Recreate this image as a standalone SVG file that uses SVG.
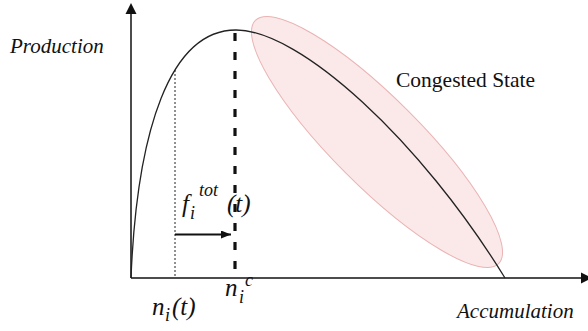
<svg xmlns="http://www.w3.org/2000/svg" width="588" height="331" viewBox="0 0 588 331">
<defs>
<marker id="ah" markerWidth="10" markerHeight="8" refX="10" refY="4" orient="auto" markerUnits="userSpaceOnUse">
<path d="M0,0 L10,4 L0,8 Z" fill="#111"/>
</marker>
</defs>
<rect width="588" height="331" fill="#fff"/>
<g id="congested-region">
<ellipse cx="377" cy="142" rx="172" ry="44" transform="rotate(45 377 142)" fill="#fbe9ea" stroke="#eab3b3" stroke-width="1"/>
</g>
<g id="axes">
<line x1="131" y1="278" x2="131" y2="12" stroke="#111" stroke-width="1.5"/>
<path d="M131,3 L125.5,14 L136.5,14 Z" fill="#111"/>
<line x1="131" y1="278" x2="582" y2="278" stroke="#111" stroke-width="1.5"/>
<path d="M592,278 L581,272.5 L581,283.5 Z" fill="#111"/>
</g>
<g id="mfd-curve">
<path d="M131,278 C137,130 170,30 236,30 C300,30 420,140 505,278" fill="none" stroke="#222" stroke-width="1.3"/>
</g>
<g id="guides">
<line x1="175" y1="70" x2="175" y2="278" stroke="#222" stroke-width="1" stroke-dasharray="2 2"/>
<line x1="235" y1="33" x2="235" y2="278" stroke="#111" stroke-width="3.2" stroke-dasharray="8 11"/>
</g>
<g id="connectors">
<line x1="175" y1="234.5" x2="231" y2="234.5" stroke="#111" stroke-width="2" marker-end="url(#ah)"/>
</g>
<g id="labels" font-family="'Liberation Serif', 'DejaVu Serif', serif" fill="#111">
<text x="10" y="53" font-size="21" font-style="italic">Production</text>
<text x="396" y="87" font-size="21.5">Congested State</text>
<text x="457" y="318" font-size="21" font-style="italic">Accumulation</text>
<text font-size="25" font-style="italic"><tspan x="182" y="212">f</tspan><tspan x="190" y="219" font-size="18">i</tspan><tspan x="199" y="196" font-size="18">tot</tspan><tspan x="227" y="212">(t)</tspan></text>
<text font-size="25" font-style="italic"><tspan x="152" y="315">n</tspan><tspan x="165" y="321" font-size="18">i</tspan><tspan x="172" y="315">(t)</tspan></text>
<text font-size="25" font-style="italic"><tspan x="225" y="296">n</tspan><tspan x="239" y="303" font-size="18">i</tspan><tspan x="245" y="286" font-size="18">c</tspan></text>
</g>
</svg>
